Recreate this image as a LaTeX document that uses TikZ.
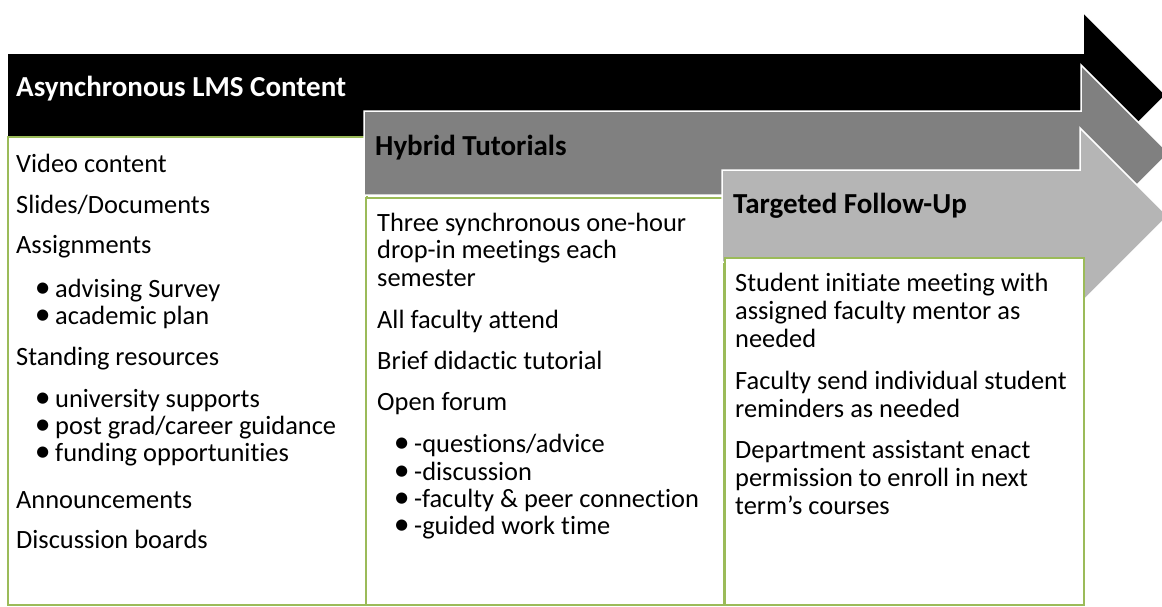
\documentclass[tikz,border=0pt]{standalone}
\usepackage{graphicx}
\usepackage{fontspec}
\setmainfont{Carlito}[Ligatures={NoCommon,NoContextual}]
\definecolor{boxgreen}{HTML}{9BBB59}
\definecolor{arrowmid}{HTML}{808080}
\definecolor{arrowlight}{HTML}{B5B5B5}
\tikzset{
  stagearrow/.style={draw=white, line width=1.5pt, line join=miter},
  listbox/.style={draw=boxgreen, fill=white, line width=2pt},
  headtext/.style={anchor=base west, inner sep=0pt, font=\fontsize{29}{30}\selectfont\bfseries},
  bodytext/.style={anchor=base west, inner sep=0pt, font=\fontsize{26.4}{28}\selectfont},
}
% list item: enlarged bullet in a fixed-width slot, then the item text
\newcommand{\bulletitem}[1]{\makebox[18pt][l]{\hspace*{-2.4pt}\rlap{\smash{\scalebox{1.2}{\textbullet}}}}#1}
\begin{document}
\begin{tikzpicture}[x=1pt,y=-1pt]
  \useasboundingbox (0,0) rectangle (1162,606);
  \clip (0,0) rectangle (1162,606);

  % stage 1: asynchronous content
  \fill[black, stagearrow] (7,53) -- (1083,53) -- (1083,12) -- (1166,95)
    -- (1083,178) -- (1083,137) -- (7,137) -- cycle;
  \draw[listbox] (8,137) rectangle (367,605);

  % stage 2: hybrid tutorials
  \fill[arrowmid, stagearrow] (364,111) -- (1081,111) -- (1081,65) -- (1169,153)
    -- (1081,241) -- (1081,195) -- (364,195) -- cycle;
  \draw[listbox] (366,198) rectangle (724,605);

  % stage 3: targeted follow-up
  \fill[arrowlight, stagearrow] (722,170) -- (1080,170) -- (1080,128) -- (1168,216)
    -- (1080,304) -- (1080,262) -- (722,262) -- cycle;
  \draw[listbox] (725,258) rectangle (1084,605);

  % headings
  \node[headtext, text=white] (h1) at (16,96) {Asynchronous LMS Content};
  \node[headtext] (h2) at (375,155) {Hybrid Tutorials};
  \node[headtext] (h3) at (733,213) {Targeted Follow-Up};

  % stage 1 items
  \node[bodytext] (a1) at (16,172) {Video content};
  \node[bodytext] (a2) at (16,213) {Slides/Documents};
  \node[bodytext] (a3) at (16,253) {Assignments};
  \node[bodytext] (a3a) at (37,297) {\bulletitem{advising Survey}};
  \node[bodytext] (a3b) at (37,324) {\bulletitem{academic plan}};
  \node[bodytext] (a4) at (16,365) {Standing resources};
  \node[bodytext] (a4a) at (37,407) {\bulletitem{university supports}};
  \node[bodytext] (a4b) at (37,434) {\bulletitem{post grad/career guidance}};
  \node[bodytext] (a4c) at (37,461) {\bulletitem{funding opportunities}};
  \node[bodytext] (a5) at (16,508) {Announcements};
  \node[bodytext] (a6) at (16,548) {Discussion boards};

  % stage 2 items
  \node[bodytext] (b1) at (377,231) {Three synchronous one-hour};
  \node[bodytext] (b1l2) at (377,258) {drop-in meetings each};
  \node[bodytext] (b1l3) at (377,286) {semester};
  \node[bodytext] (b2) at (377,328) {All faculty attend};
  \node[bodytext] (b3) at (377,369) {Brief didactic tutorial};
  \node[bodytext] (b4) at (377,410) {Open forum};
  \node[bodytext] (b4a) at (396,452) {\bulletitem{-questions/advice}};
  \node[bodytext] (b4b) at (396,480) {\bulletitem{-discussion}};
  \node[bodytext] (b4c) at (396,507) {\bulletitem{-faculty \& peer connection}};
  \node[bodytext] (b4d) at (396,534) {\bulletitem{-guided work time}};

  % stage 3 items
  \node[bodytext] (c1) at (735,291) {Student initiate meeting with};
  \node[bodytext] (c1l2) at (735,319) {assigned faculty mentor as};
  \node[bodytext] (c1l3) at (735,347) {needed};
  \node[bodytext] (c2) at (735,389) {Faculty send individual student};
  \node[bodytext] (c2l2) at (735,417) {reminders as needed};
  \node[bodytext] (c3) at (735,458) {Department assistant enact};
  \node[bodytext] (c3l2) at (735,486) {permission to enroll in next};
  \node[bodytext] (c3l3) at (735,514) {term’s courses};
\end{tikzpicture}
\end{document}
